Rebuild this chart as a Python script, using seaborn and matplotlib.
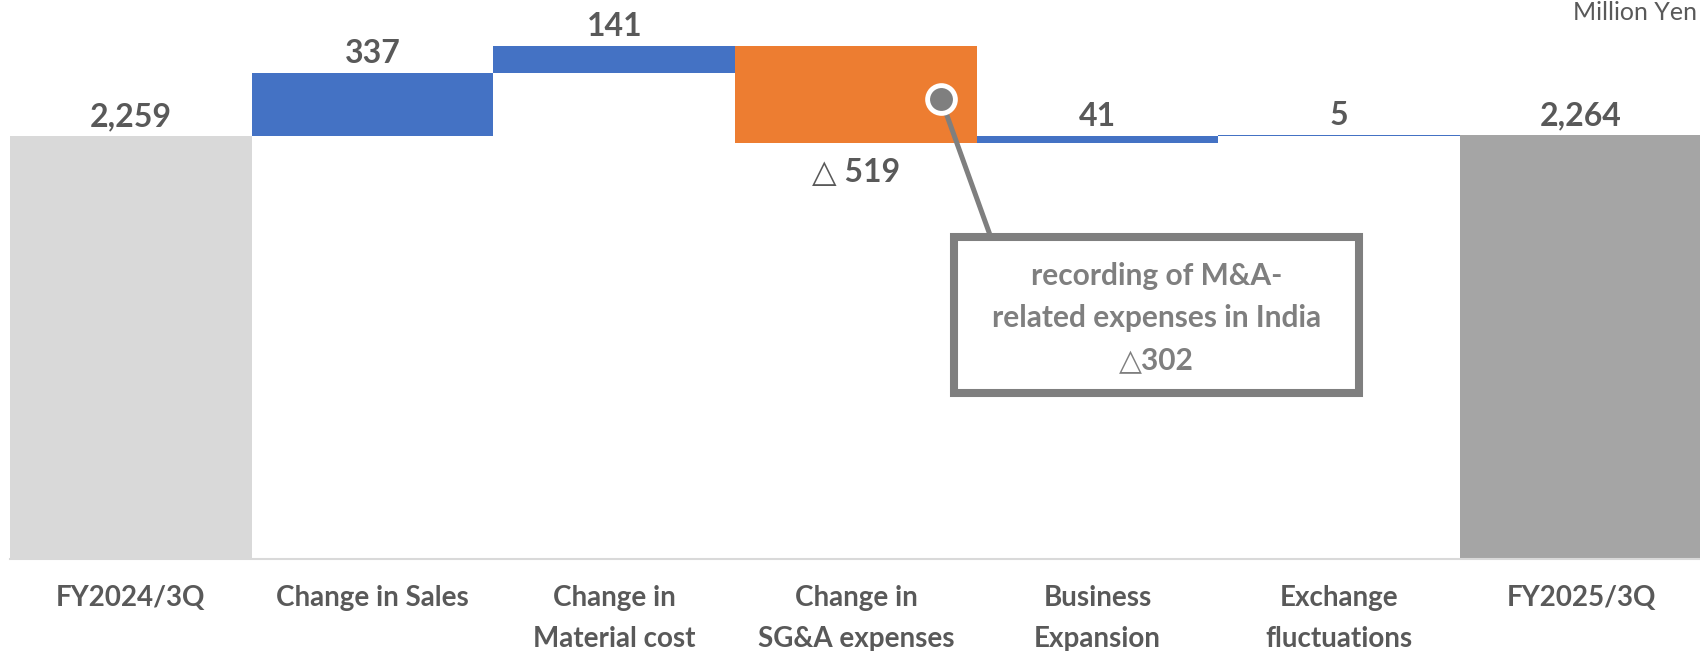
import numpy as np
import pandas as pd
import matplotlib
matplotlib.use("Agg")
import matplotlib.pyplot as plt
import seaborn as sns
from matplotlib.patches import Rectangle

# data (million yen)
categories = ["FY2024/3Q", "Change in\nSales", "Change in\nMaterial cost", "Change in\nSG&A expenses",
              "Business\nExpansion", "Exchange\nfluctuations", "FY2025/3Q"]
tick_labels = ["FY2024/3Q", "Change in Sales", "Change in\nMaterial cost", "Change in\nSG&A expenses",
               "Business\nExpansion", "Exchange\nfluctuations", "FY2025/3Q"]
start_value = 2259
deltas = [337, 141, -519, 41, 5]
end_value = 2264
note_text = "recording of M&A-\nrelated expenses in India\n△302"

bar_colors = ["#d9d9d9", "#4472c4", "#4472c4", "#ed7d31", "#4472c4", "#4472c4", "#a5a5a5"]
text_color = "#595959"
note_color = "#7f7f7f"

# waterfall geometry
cum = start_value + np.cumsum(deltas)
prev = np.concatenate([[start_value], cum[:-1]])
bottoms = [0] + list(np.minimum(prev, cum)) + [0]
heights = [start_value] + [abs(d) for d in deltas] + [end_value]
tops = [b + h for b, h in zip(bottoms, heights)]
labels = [f"{start_value:,}"] + [f"{d:,}" if d >= 0 else f"△ {abs(d):,}" for d in deltas] + [f"{end_value:,}"]

df = pd.DataFrame({"category": categories, "height": heights})

sns.set_theme(style="white")
plt.rcParams["font.family"] = ["Lato", "DejaVu Sans"]

W, H = 1700, 651
fig = plt.figure(figsize=(W / 100, H / 100), dpi=100)
ax = fig.add_axes([10 / W, 1 - 559 / H, 7 * 241.7 / W, 559 / H])

sns.barplot(data=df, x="category", y="height", order=categories, bottom=np.array(bottoms, dtype=float),
            width=1.0, color=bar_colors[0], linewidth=0, errorbar=None, ax=ax)
for patch, c in zip(ax.patches, bar_colors):
    patch.set_facecolor(c)
    patch.set_edgecolor(c)

ax.set_xlim(-0.5, 6.5)
ax.set_ylim(0, 2983)
ax.set_xlabel("")
ax.set_ylabel("")
ax.set_yticks([])
ax.set_xticks(range(len(categories)))
ax.set_xticklabels(tick_labels, fontsize=20, fontweight="bold", color=text_color, linespacing=1.7)
ax.tick_params(axis="x", length=0, pad=19)
for s in ["top", "left", "right"]:
    ax.spines[s].set_visible(False)
ax.spines["bottom"].set_color("#d9d9d9")
ax.spines["bottom"].set_linewidth(1.5)

# value labels
for i, (lab, top, bot) in enumerate(zip(labels, tops, bottoms)):
    if lab.startswith("△"):
        ax.annotate(lab, xy=(i, bot), xytext=(0, -27.5), textcoords="offset points",
                    ha="center", va="baseline", fontsize=23, fontweight="bold", color=text_color)
    else:
        ax.annotate(lab, xy=(i, top), xytext=(0, 7), textcoords="offset points",
                    ha="center", va="baseline", fontsize=23, fontweight="bold", color=text_color)

# callout box
def fx(px):
    return px / W

def fy(py):
    return 1 - py / H

fig.add_artist(Rectangle((fx(954), fy(393)), fx(1359) - fx(954), fy(237) - fy(393),
                         transform=fig.transFigure, facecolor="white", edgecolor=note_color,
                         linewidth=5.8, zorder=5))
fig.add_artist(plt.Line2D([fx(941), fx(990)], [fy(99), fy(235)], transform=fig.transFigure,
                          color=note_color, linewidth=3.6, zorder=4))
fig.add_artist(plt.Line2D([fx(941)], [fy(99)], transform=fig.transFigure, marker="o",
                          markersize=20, markerfacecolor=note_color, markeredgecolor="white",
                          markeredgewidth=3.5, linestyle="none", zorder=6))
fig.text(fx(1156.5), fy(318), note_text, ha="center", va="center", fontsize=21.5,
         fontweight="bold", color=note_color, linespacing=1.6, zorder=7)

fig.text(fx(1697), fy(13), "Million Yen", ha="right", va="center", fontsize=18, color=text_color)

fig.savefig("out.png", dpi=100)
